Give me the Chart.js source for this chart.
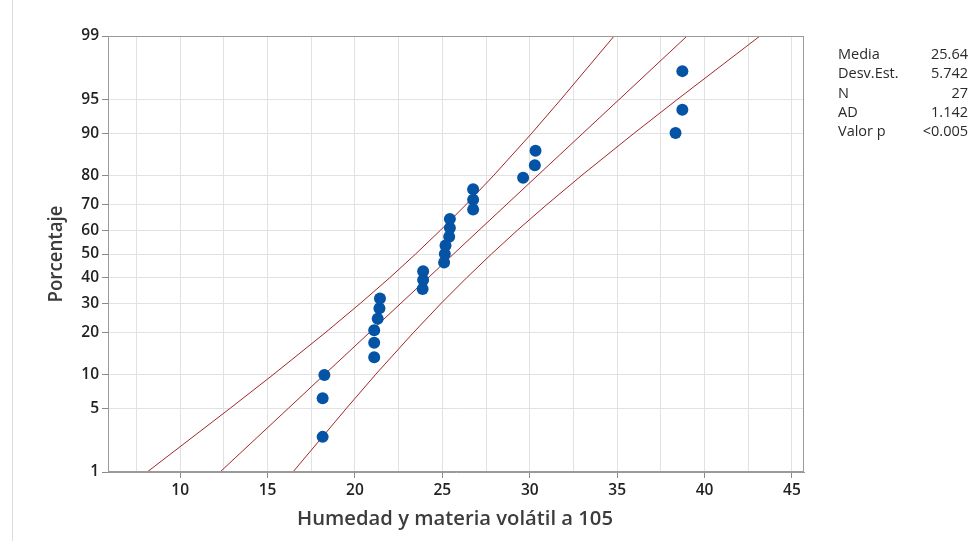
<!DOCTYPE html>
<html>
<head>
<meta charset="utf-8">
<script src="https://cdn.jsdelivr.net/npm/chart.js@4/dist/chart.umd.min.js"></script>
<style>
  html, body { margin: 0; padding: 0; background: #fff; }
  #wrap { width: 973px; height: 541px; position: relative; }
</style>
</head>
<body>
<div id="wrap"><canvas id="c" width="973" height="541"></canvas></div>
<script>
// ---- Data ----
const dataValues = [18.15, 18.15, 18.25, 21.1, 21.1, 21.1, 21.3, 21.4, 21.43,
  23.87, 23.9, 23.9, 25.1, 25.14, 25.18, 25.39, 25.43, 25.43,
  26.76, 26.76, 26.76, 29.62, 30.29, 30.33, 38.34, 38.73, 38.73];
const dataPercents = [2.55, 6.20, 9.85, 13.50, 17.15, 20.80, 24.45, 28.10, 31.75,
  35.40, 39.05, 42.70, 46.35, 50.00, 53.65, 57.30, 60.95, 64.60,
  68.25, 71.90, 75.55, 79.20, 82.85, 86.50, 90.15, 93.80, 97.45];

// Percent levels at which the fitted line and its bands are read
const linePercents = [1, 5, 10, 20, 30, 40, 50, 60, 70, 80, 90, 95, 99];
const fitLine   = [12.28, 16.20, 18.28, 20.81, 22.63, 24.19, 25.64, 27.09, 28.65, 30.47, 33.00, 35.09, 39.00];
const lowerBand = [8.11, 12.87, 15.36, 18.29, 20.32, 21.99, 23.47, 24.89, 26.34, 27.95, 30.08, 31.76, 34.83];
const upperBand = [16.45, 19.52, 21.20, 23.33, 24.94, 26.39, 27.81, 29.29, 30.96, 32.99, 35.92, 38.41, 43.17];

// Axis ticks
const yTickPercents = [1, 5, 10, 20, 30, 40, 50, 60, 70, 80, 90, 95, 99];
const xTickValues = [7.5, 10, 12.5, 15, 17.5, 20, 22.5, 25, 27.5, 30, 32.5, 35, 37.5, 40, 42.5, 45];

// Statistics table
const statLabels = ["Media", "Desv.Est.", "N", "AD", "Valor p"];
const statValues = ["25.64", "5.742", "27", "1.142", "<0.005"];

const xTitle = "Humedad y materia volátil a 105";
const yTitle = "Porcentaje";

// ---- Normal probability scale transform ----
function probit(p) {
  const a=[-3.969683028665376e+01,2.209460984245205e+02,-2.759285104469687e+02,1.383577518672690e+02,-3.066479806614716e+01,2.506628277459239e+00];
  const b=[-5.447609879822406e+01,1.615858368580409e+02,-1.556989798598866e+02,6.680131188771972e+01,-1.328068155288572e+01];
  const c=[-7.784894002430293e-03,-3.223964580411365e-01,-2.400758277161838e+00,-2.549732539343734e+00,4.374664141464968e+00,2.938163982698783e+00];
  const d=[7.784695709041462e-03,3.224671290700398e-01,2.445134137142996e+00,3.754408661907416e+00];
  const pl = 0.02425, ph = 1 - pl;
  let q, r;
  if (p < pl) { q = Math.sqrt(-2*Math.log(p)); return (((((c[0]*q+c[1])*q+c[2])*q+c[3])*q+c[4])*q+c[5])/((((d[0]*q+d[1])*q+d[2])*q+d[3])*q+1); }
  if (p <= ph) { q = p - 0.5; r = q*q; return (((((a[0]*r+a[1])*r+a[2])*r+a[3])*r+a[4])*r+a[5])*q/(((((b[0]*r+b[1])*r+b[2])*r+b[3])*r+b[4])*r+1); }
  q = Math.sqrt(-2*Math.log(1-p)); return -(((((c[0]*q+c[1])*q+c[2])*q+c[3])*q+c[4])*q+c[5])/((((d[0]*q+d[1])*q+d[2])*q+d[3])*q+1);
}
const z = pct => probit(pct / 100);

const pts = dataValues.map((v, i) => ({ x: v, y: z(dataPercents[i]) }));
const mkLine = arr => arr.map((v, i) => ({ x: v, y: z(linePercents[i]) }));

const FONT = "'Open Sans', 'Noto Sans', sans-serif";
const RED = '#a3262a';
const BLUE = '#0553a5';

function fitText(ctx, text, cx, cy, targetW) {
  const w = ctx.measureText(text).width;
  const s = targetW / w;
  ctx.save();
  ctx.translate(cx, cy);
  ctx.scale(s, 1);
  ctx.fillText(text, 0, 0);
  ctx.restore();
}

const overlay = {
  id: 'overlay',
  beforeDraw(chart) {
    const ctx = chart.ctx;
    ctx.save();
    ctx.fillStyle = '#fff';
    ctx.fillRect(0, 0, chart.width, chart.height);
    ctx.strokeStyle = '#dcdcdc';
    ctx.lineWidth = 1;
    ctx.beginPath(); ctx.moveTo(12.5, 0); ctx.lineTo(12.5, chart.height); ctx.stroke();
    ctx.restore();
  },
  afterDraw(chart) {
    const ctx = chart.ctx;
    const a = chart.chartArea;
    ctx.save();
    ctx.strokeStyle = '#9a9a9a';
    ctx.lineWidth = 1;
    ctx.strokeRect(Math.round(a.left) + 0.5, Math.round(a.top) + 0.5, Math.round(a.right - a.left) - 1, Math.round(a.bottom - a.top) - 1);
    // axis titles
    ctx.fillStyle = '#3c3c3c';
    ctx.font = "600 19px " + FONT;
    ctx.textAlign = 'center';
    ctx.textBaseline = 'middle';
    fitText(ctx, xTitle, 455, 520, 316);
    ctx.save();
    ctx.translate(57, 254);
    ctx.rotate(-Math.PI / 2);
    fitText(ctx, yTitle, 0, 0, 97);
    ctx.restore();
    // stats
    ctx.font = "14.5px " + FONT;
    ctx.fillStyle = '#2a2a2a';
    statLabels.forEach((s, i) => {
      const y = 55 + i * 19.2;
      ctx.textAlign = 'left';
      ctx.fillText(s, 838, y);
      ctx.textAlign = 'right';
      ctx.fillText(statValues[i], 968, y);
    });
    ctx.restore();
  }
};

new Chart(document.getElementById('c'), {
  type: 'scatter',
  data: {
    datasets: [
      { label: 'Datos', data: pts, order: 0, backgroundColor: BLUE, borderColor: BLUE,
        pointRadius: 6, pointHoverRadius: 6, borderWidth: 0 },
      { label: 'Ajuste', data: mkLine(fitLine), order: 1, showLine: true, borderColor: RED,
        borderWidth: 1, pointRadius: 0, fill: false },
      { label: 'IC inferior', data: mkLine(lowerBand), order: 1, showLine: true, borderColor: RED,
        borderWidth: 1, pointRadius: 0, fill: false },
      { label: 'IC superior', data: mkLine(upperBand), order: 1, showLine: true, borderColor: RED,
        borderWidth: 1, pointRadius: 0, fill: false }
    ]
  },
  options: {
    responsive: false,
    animation: false,
    events: [],
    layout: { padding: { left: 0, right: 169, top: 36, bottom: 0 } },
    plugins: { legend: { display: false }, tooltip: { enabled: false }, title: { display: false } },
    scales: {
      x: {
        type: 'linear', min: 5.87, max: 45.69,
        afterBuildTicks: s => { s.ticks = xTickValues.map(v => ({ value: v })); },
        afterFit: s => { s.height = 69; },
        grid: {
          color: '#e2e2e2', lineWidth: 1, drawTicks: true, tickLength: 6,
          tickColor: c => (c.tick && c.tick.value % 5 === 0) ? '#8a8a8a' : 'rgba(0,0,0,0)'
        },
        border: { display: true, color: '#9a9a9a' },
        ticks: {
          autoSkip: false, maxRotation: 0, padding: 3, color: '#222',
          font: { family: FONT, size: 15.5, weight: '600' },
          callback: v => (v % 5 === 0 ? String(v) : '')
        }
      },
      y: {
        type: 'linear', min: z(1), max: z(99),
        afterBuildTicks: s => { s.ticks = yTickPercents.map(p => ({ value: z(p) })); },
        afterFit: s => { s.width = 108; },
        grid: { color: '#e2e2e2', lineWidth: 1, drawTicks: true, tickLength: 6, tickColor: '#8a8a8a' },
        border: { display: true, color: '#9a9a9a' },
        ticks: {
          autoSkip: false, padding: 3, color: '#222',
          font: { family: FONT, size: 15.5, weight: '600' },
          callback: (v, i) => String(yTickPercents[i])
        }
      }
    }
  },
  plugins: [overlay]
});
</script>
</body>
</html>
